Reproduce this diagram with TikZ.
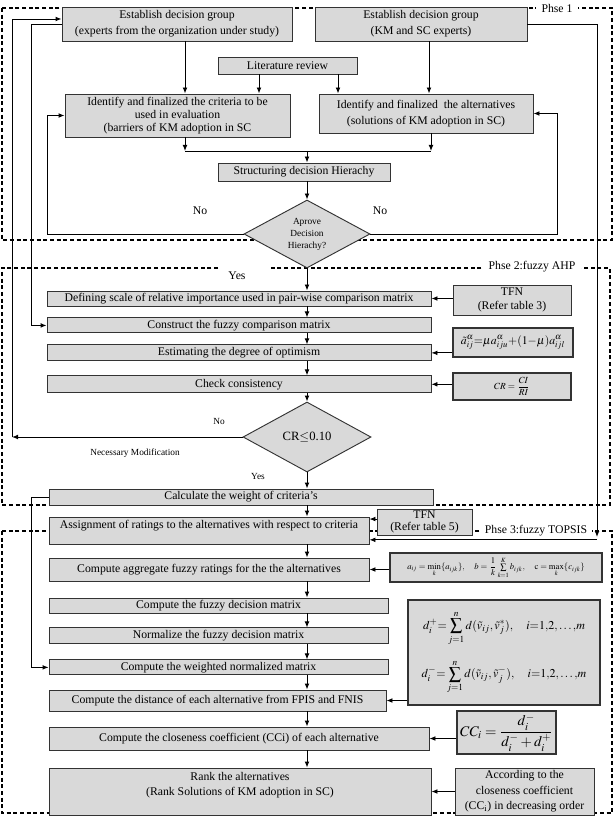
\documentclass[tikz,border=0pt]{standalone}
\usepackage{amsmath}
\usepackage{mathptmx}
\usepackage[no-math]{fontspec}
\setmainfont{Liberation Serif}
\usepackage{xcolor}
\usetikzlibrary{arrows.meta,positioning,shapes.geometric}
\definecolor{BoxGrey}{HTML}{D9D9D9}
\definecolor{LineGrey}{HTML}{333333}
\newcommand{\boxfont}{\fontsize{8.8}{10}\selectfont}
\newcommand{\smallfont}{\fontsize{7}{9}\selectfont}

\begin{document}
\begin{tikzpicture}[x=0.75pt,y=-0.75pt,
  box/.style={draw=LineGrey,fill=BoxGrey,align=center,font=\boxfont,inner sep=1pt,line width=0.7pt},
  fmbox/.style={box,line width=0.9pt},
  dec/.style={box,diamond,aspect=1.85,inner sep=0pt},
  frame/.style={draw=black,line width=0.8pt,dash pattern=on 3pt off 2pt},
  phase/.style={fill=white,font=\boxfont,inner xsep=4pt,inner ysep=1pt},
  lbl/.style={font=\boxfont,inner sep=1pt},
  slbl/.style={font=\smallfont,inner sep=1pt},
  arr/.style={-{Latex[length=4.5pt,width=3.6pt]},line width=0.7pt,draw=black},
  link/.style={line width=0.7pt,draw=black}
]
  \useasboundingbox (0,0) rectangle (614,816);

  % Phase frames
  \draw[frame] (2,8) rectangle (612,240);
  \draw[frame] (218,268) -- (2,268) -- (2,505) -- (610,505) -- (610,268) -- (270,268);
  \draw[frame] (2,531) rectangle (612,813);
  \node[phase] (ph1) at (557,8) {Phse 1};
  \node[phase] (ph2) at (532,267) {Phse 2:fuzzy AHP};
  \node[phase] (ph3) at (536,531) {Phse 3:fuzzy TOPSIS};

  % Phase 1
  \node[box,minimum width=172.5pt,minimum height=25.5pt] (b1) at (177,24) {Establish decision group\\[2pt](experts from the organization under study)};
  \node[box,minimum width=159pt,minimum height=25.5pt] (b2) at (421,24) {Establish decision group\\[2pt](KM and SC experts)};
  \node[box,minimum width=104.25pt,minimum height=12.75pt] (lit) at (287.5,65.5) {Literature review};
  \node[box,minimum width=168.75pt,minimum height=32.25pt] (crit) at (177.5,115.5) {Identify and finalized the criteria to be\\used in evaluation\\(barriers of KM adoption in SC};
  \node[box,minimum width=160.5pt,minimum height=29.25pt] (alt) at (426,113.5) {Identify and finalized\ \ the alternatives\\[2pt](solutions of KM adoption in SC)};
  \node[box,minimum width=129pt,minimum height=13.5pt] (hier) at (304,172) {Structuring decision Hierachy};
  \node[dec,font=\smallfont,minimum width=94.5pt,minimum height=51pt] (dia1) at (307,234) {Aprove\\Decision\\Hierachy?};
  \node[lbl] (no1) at (200,211) {No};
  \node[lbl] (no2) at (380,211) {No};

  % Phase 2
  \node[lbl] (yes1) at (237,276) {Yes};
  \node[box,minimum width=288pt,minimum height=11.25pt] (def) at (239,298.5) {Defining scale of relative importance used in pair-wise comparison matrix};
  \node[box,minimum width=288pt,minimum height=11.25pt,below=8.25pt of def] (cfm) {Construct the fuzzy comparison matrix};
  \node[box,minimum width=288pt,minimum height=12pt,below=8.25pt of cfm] (opt) {Estimating the degree of optimism};
  \node[box,minimum width=288pt,minimum height=12.75pt,below=10.5pt of opt] (chk) {Check consistency};
  \node[box,minimum width=88.5pt,minimum height=22.5pt] (tfn1) at (512,300) {TFN\\(Refer table 3)};
  \node[fmbox,minimum width=90pt,minimum height=21.75pt] (fopt) at (513,342.5) {$\tilde{a}^{\alpha}_{ij}{=}\mu a^{\alpha}_{iju}{+}(1{-}\mu)a^{\alpha}_{ijl}$};
  \node[fmbox,font=\fontsize{7}{8}\selectfont,minimum width=88.5pt,minimum height=20.25pt] (fcr) at (512,386.5) {$CR=\dfrac{CI}{RI}$};
  \node[dec,font=\fontsize{9.5}{11}\selectfont,minimum width=96pt,minimum height=52.5pt] (dia2) at (307,437) {CR$\leq$0.10};
  \node[slbl] (no3) at (219,421) {No};
  \node[slbl] (mod) at (135,453) {Necessary Modification};
  \node[slbl] (yes2) at (258,476) {Yes};
  \node[box,minimum width=288pt,minimum height=12pt] (wgt) at (241,497) {Calculate the weight of criteria's};

  % Phase 3
  \node[box,minimum width=240pt,minimum height=20.25pt] (asg) at (209,530.5) {Assignment of ratings to the alternatives with respect to criteria\\[-1pt]~};
  \node[box,minimum width=71.25pt,minimum height=19.5pt] (tfn2) at (424.5,522) {TFN\\[-1pt](Refer table 5)};
  \node[box,minimum width=240pt,minimum height=17.25pt] (agg) at (209,569.5) {Compute aggregate fuzzy ratings for the the alternatives};
  \node[fmbox,font=\fontsize{6.5}{8}\selectfont,minimum width=159pt,minimum height=21.75pt] (fagg) at (496,567.5) {$a_{ij}=\min\limits_{k}\{a_{ijk}\},\quad b=\dfrac{1}{k}\sum\limits_{k=1}^{K}b_{ijk},\quad \mathrm{c}=\max\limits_{k}\{c_{ijk}\}$};
  \node[box,minimum width=254.25pt,minimum height=11.25pt] (fdm) at (218.5,605.5) {Compute the fuzzy decision matrix};
  \node[box,minimum width=254.25pt,minimum height=12pt,below=10.5pt of fdm] (nrm) {Normalize the fuzzy decision matrix};
  \node[box,minimum width=254.25pt,minimum height=11.25pt,below=11.25pt of nrm] (wnm) {Compute the weighted normalized matrix};
  \node[fmbox,font=\fontsize{9}{11}\selectfont,minimum width=144pt,minimum height=78.75pt] (fd) at (504,652.5) {$\displaystyle d_i^{+}{=}\sum_{j=1}^{n}d(\tilde{v}_{ij},\tilde{v}_j^{*}),\quad i{=}1{,}2{,}\ldots{,}m$\\[10pt]$\displaystyle d_i^{-}{=}\sum_{j=1}^{n}d(\tilde{v}_{ij},\tilde{v}_j^{-}),\quad i{=}1{,}2{,}\ldots{,}m$};
  \node[box,minimum width=252.75pt,minimum height=15.75pt] (dst) at (217.5,700.5) {Compute the distance of each alternative from FPIS and FNIS};
  \node[box,minimum width=285pt,minimum height=17.25pt] (ccb) at (239,738.5) {Compute the closeness coefficient (CCi) of each alternative};
  \node[fmbox,font=\fontsize{11}{12}\selectfont,minimum width=74.25pt,minimum height=32.25pt] (fcc) at (506.5,732.5) {$\displaystyle CC_i=\frac{d_i^-}{d_i^-+d_i^+}$};
  \node[box,minimum width=286.5pt,minimum height=35.25pt] (rnk) at (240,791.5) {Rank the alternatives\\[1.5pt](Rank Solutions of KM adoption in SC)\\[1.5pt]~};
  \node[box,minimum width=104.25pt,minimum height=35.25pt] (acc) at (524.5,791.5) {According to the\\[1.5pt]closeness coefficient\\[1.5pt](CC$_\mathrm{i}$) in decreasing order};

  % Connector columns
  \coordinate (xa) at (185,0); \coordinate (xb) at (259,0); \coordinate (xc) at (338,0); \coordinate (xd) at (429,0);
  \coordinate (m1) at (185,151); \coordinate (m2) at (431,151);
  \coordinate (xl0) at (12,0); \coordinate (xl1) at (47,0); \coordinate (xl2) at (31,0); \coordinate (xr1) at (557,0);
  \coordinate (c3) at (597,537);
  \coordinate (b1in) at ([yshift=3.75pt]b1.west);
  \coordinate (asgin1) at ([yshift=8.6pt]asg.east);
  \coordinate (asgin2) at ([yshift=-7pt]asg.east);

  % Phase 1 links
  \draw[arr] (b1.south -| xa) -- (crit.north -| xa); \draw[arr] (lit.south -| xb) -- (crit.north -| xb);
  \draw[arr] (lit.south -| xc) -- (alt.north -| xc); \draw[arr] (b2.south -| xd) -- (alt.north -| xd);
  \draw[arr] (crit.south -| m1) -- (m1); \draw[arr] (alt.south -| m2) -- (m2); \draw[link] (m1) -- (m2);
  \draw[arr] (m1 -| dia1) -- (hier.north -| dia1); \draw[arr] (hier.south -| dia1) -- (dia1.north);
  \draw[arr] (dia1.west) -- (dia1.west -| xl1) |- (crit.west);
  \draw[arr] (dia1.east) -- (dia1.east -| xr1) |- (alt.east);

  % Phase 2 links
  \draw[arr] (dia1.south) -- (def.north -| dia1);
  \draw[arr] (def.south -| dia1) -- (cfm.north -| dia1); \draw[arr] (cfm.south -| dia1) -- (opt.north -| dia1);
  \draw[arr] (opt.south -| dia1) -- (chk.north -| dia1); \draw[arr] (chk.south -| dia2) -- (dia2.north);
  \draw[arr] (tfn1.west |- def.east) -- (def.east);
  \draw[arr] (fopt.west |- opt.east) -- (opt.east);
  \draw[arr] (fcr.west |- chk.east) -- (chk.east);
  \draw[arr] (dia2.west) -- (dia2.west -| xl0); \draw[arr] (dia2.west -| xl0) |- (b1in);
  \draw[arr] (b1.west) -- (b1.west -| xl2) |- (cfm.west);
  \draw[arr] (dia2.south) -- (wgt.north -| dia2);

  % Phase 3 links
  \draw[arr] (wgt.south -| dia2) -- (asg.north -| dia2);
  \draw[arr] (wgt.west) -- (wgt.west -| xl2) |- (wnm.west);
  \draw[arr] (b2.east) -| (c3); \draw[arr] (asgin2 -| c3) -- (asgin2);
  \draw[arr] (tfn2.west |- asgin1) -- (asgin1);
  \draw[arr] (asg.south -| dia2) -- (agg.north -| dia2); \draw[arr] (agg.south -| dia2) -- (fdm.north -| dia2);
  \draw[arr] (fdm.south -| dia2) -- (nrm.north -| dia2); \draw[arr] (nrm.south -| dia2) -- (wnm.north -| dia2);
  \draw[arr] (wnm.south -| dia2) -- (dst.north -| dia2); \draw[arr] (dst.south -| dia2) -- (ccb.north -| dia2);
  \draw[arr] (ccb.south -| dia2) -- (rnk.north -| dia2);
  \draw[arr] (fagg.west |- agg.east) -- (agg.east);
  \draw[arr] (fd.west |- dst.east) -- (dst.east);
  \draw[arr] (fcc.west |- ccb.east) -- (ccb.east);
  \draw[arr] (acc.west |- rnk.east) -- (rnk.east);
\end{tikzpicture}
\end{document}
